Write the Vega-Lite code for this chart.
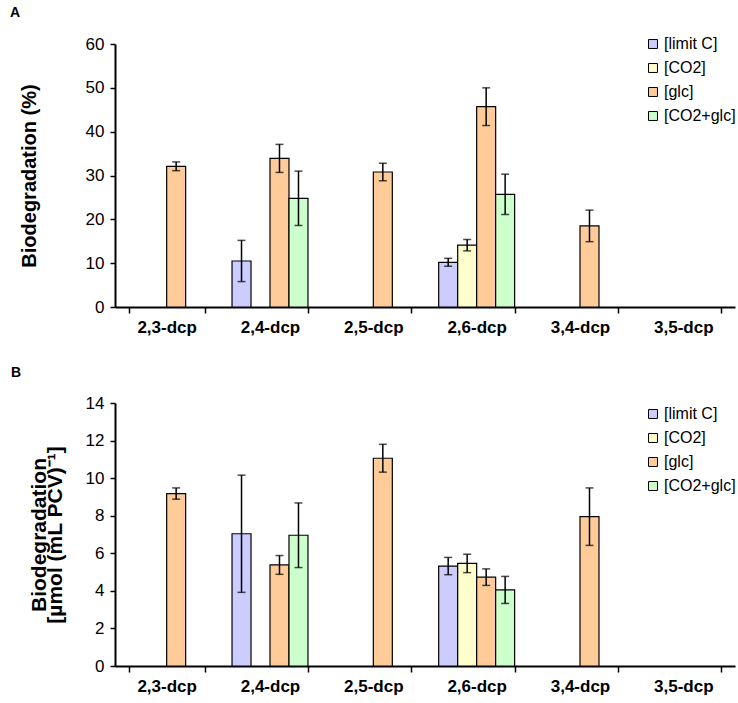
{
  "$schema": "https://vega.github.io/schema/vega-lite/v6.json",
  "padding": {"left": 10, "top": 6, "right": 3, "bottom": 5},
  "background": "white",
  "spacing": 31,
  "config": {
    "font": "Liberation Sans",
    "view": {"stroke": null},
    "axis": {
      "domainColor": "black", "domainWidth": 2,
      "tickColor": "black", "tickWidth": 1.5, "tickSize": 5,
      "labelColor": "black", "titleColor": "black",
      "labelFont": "Liberation Sans", "titleFont": "Liberation Sans",
      "grid": false, "labelOverlap": false
    },
    "title": {"font": "Liberation Sans", "fontWeight": "bold", "fontSize": 14, "color": "black", "anchor": "start", "frame": "bounds"}
  },
  "datasets": {
    "a": [
      {"cat": "2,3-dcp", "cond": "[glc]", "value": 32.1, "lo": 31.1, "hi": 33.1},
      {"cat": "2,4-dcp", "cond": "[limit C]", "value": 10.5, "lo": 5.8, "hi": 15.2},
      {"cat": "2,4-dcp", "cond": "[glc]", "value": 33.9, "lo": 30.7, "hi": 37.1},
      {"cat": "2,4-dcp", "cond": "[CO2+glc]", "value": 24.8, "lo": 18.6, "hi": 31.0},
      {"cat": "2,5-dcp", "cond": "[glc]", "value": 30.8, "lo": 28.8, "hi": 32.8},
      {"cat": "2,6-dcp", "cond": "[limit C]", "value": 10.2, "lo": 9.3, "hi": 11.1},
      {"cat": "2,6-dcp", "cond": "[CO2]", "value": 14.1, "lo": 12.8, "hi": 15.4},
      {"cat": "2,6-dcp", "cond": "[glc]", "value": 45.7, "lo": 41.4, "hi": 50.0},
      {"cat": "2,6-dcp", "cond": "[CO2+glc]", "value": 25.7, "lo": 21.1, "hi": 30.3},
      {"cat": "3,4-dcp", "cond": "[glc]", "value": 18.5, "lo": 14.9, "hi": 22.1}
    ],
    "b": [
      {"cat": "2,3-dcp", "cond": "[glc]", "value": 9.18, "lo": 8.88, "hi": 9.48},
      {"cat": "2,4-dcp", "cond": "[limit C]", "value": 7.04, "lo": 3.92, "hi": 10.16},
      {"cat": "2,4-dcp", "cond": "[glc]", "value": 5.38, "lo": 4.88, "hi": 5.88},
      {"cat": "2,4-dcp", "cond": "[CO2+glc]", "value": 6.96, "lo": 5.24, "hi": 8.68},
      {"cat": "2,5-dcp", "cond": "[glc]", "value": 11.06, "lo": 10.32, "hi": 11.8},
      {"cat": "2,6-dcp", "cond": "[limit C]", "value": 5.32, "lo": 4.86, "hi": 5.78},
      {"cat": "2,6-dcp", "cond": "[CO2]", "value": 5.46, "lo": 4.97, "hi": 5.95},
      {"cat": "2,6-dcp", "cond": "[glc]", "value": 4.73, "lo": 4.29, "hi": 5.17},
      {"cat": "2,6-dcp", "cond": "[CO2+glc]", "value": 4.05, "lo": 3.33, "hi": 4.77},
      {"cat": "3,4-dcp", "cond": "[glc]", "value": 7.95, "lo": 6.42, "hi": 9.48}
    ]
  },
  "resolve": {"scale": {"color": "independent"}, "legend": {"color": "independent"}},
  "vconcat": [
    {
      "title": {"text": "A", "dx": -9, "offset": 15},
      "width": 620, "height": 263,
      "data": {"name": "a"},
      "encoding": {
        "x": {"field": "cat", "type": "nominal", "sort": null,
          "scale": {"domain": ["2,3-dcp", "2,4-dcp", "2,5-dcp", "2,6-dcp", "3,4-dcp", "3,5-dcp"], "paddingInner": 0.265, "paddingOuter": 0.1325},
          "axis": {"title": null, "labelAngle": 0, "labelFontWeight": "bold", "labelFontSize": 17, "labelPadding": 6, "tickBand": "extent", "tickSize": 6}},
        "xOffset": {"field": "cond", "type": "nominal",
          "scale": {"domain": ["[limit C]", "[CO2]", "[glc]", "[CO2+glc]"], "paddingInner": 0, "paddingOuter": 0}}
      },
      "layer": [
        {
          "mark": {"type": "bar", "stroke": "black", "strokeWidth": 1.2},
          "encoding": {
            "y": {"field": "value", "type": "quantitative",
              "scale": {"domain": [0, 60], "nice": false},
              "axis": {"values": [0, 10, 20, 30, 40, 50, 60], "title": "Biodegradation (%)", "titleFontSize": 20, "titleFontWeight": "bold", "titlePadding": 46, "labelFontSize": 17, "labelPadding": 6, "labelOverlap": false}},
            "color": {"field": "cond", "type": "nominal",
              "scale": {"domain": ["[limit C]", "[CO2]", "[glc]", "[CO2+glc]"], "range": ["#ccccff", "#ffffcc", "#ffcc99", "#ccffcc"]},
              "legend": {"orient": "none", "legendX": 530, "legendY": -8, "title": null, "symbolType": "square", "symbolSize": 80, "symbolStrokeColor": "black", "symbolStrokeWidth": 1, "symbolOpacity": 1, "labelFontSize": 16, "labelColor": "black", "labelOffset": 3, "rowPadding": 8}}
          }
        },
        {
          "mark": {"type": "rule", "color": "black", "strokeWidth": 1.5},
          "encoding": {"y": {"field": "lo", "type": "quantitative", "axis": {"values": [0, 10, 20, 30, 40, 50, 60], "title": "Biodegradation (%)", "titleFontSize": 20, "titleFontWeight": "bold", "titlePadding": 46, "labelFontSize": 17, "labelPadding": 6, "labelOverlap": false}}, "y2": {"field": "hi"}}
        },
        {
          "mark": {"type": "tick", "color": "black", "thickness": 1.5, "size": 8, "orient": "horizontal"},
          "encoding": {"y": {"field": "lo", "type": "quantitative", "axis": {"values": [0, 10, 20, 30, 40, 50, 60], "title": "Biodegradation (%)", "titleFontSize": 20, "titleFontWeight": "bold", "titlePadding": 46, "labelFontSize": 17, "labelPadding": 6, "labelOverlap": false}}}
        },
        {
          "mark": {"type": "tick", "color": "black", "thickness": 1.5, "size": 8, "orient": "horizontal"},
          "encoding": {"y": {"field": "hi", "type": "quantitative", "axis": {"values": [0, 10, 20, 30, 40, 50, 60], "title": "Biodegradation (%)", "titleFontSize": 20, "titleFontWeight": "bold", "titlePadding": 46, "labelFontSize": 17, "labelPadding": 6, "labelOverlap": false}}}
        }
      ]
    },
    {
      "title": {"text": "B", "dx": -17, "offset": 14},
      "width": 620, "height": 263,
      "data": {"name": "b"},
      "encoding": {
        "x": {"field": "cat", "type": "nominal", "sort": null,
          "scale": {"domain": ["2,3-dcp", "2,4-dcp", "2,5-dcp", "2,6-dcp", "3,4-dcp", "3,5-dcp"], "paddingInner": 0.265, "paddingOuter": 0.1325},
          "axis": {"title": null, "labelAngle": 0, "labelFontWeight": "bold", "labelFontSize": 17, "labelPadding": 6, "tickBand": "extent", "tickSize": 6}},
        "xOffset": {"field": "cond", "type": "nominal",
          "scale": {"domain": ["[limit C]", "[CO2]", "[glc]", "[CO2+glc]"], "paddingInner": 0, "paddingOuter": 0}}
      },
      "layer": [
        {
          "mark": {"type": "bar", "stroke": "black", "strokeWidth": 1.2},
          "encoding": {
            "y": {"field": "value", "type": "quantitative",
              "scale": {"domain": [0, 14], "nice": false},
              "axis": {"values": [0, 2, 4, 6, 8, 10, 12, 14], "title": ["Biodegradation", "[µmol (mL PCV)⁻¹]"], "titleFontSize": 21, "titleFontWeight": "bold", "titlePadding": 20, "titleLineHeight": 16, "labelFontSize": 17, "labelPadding": 6, "labelOverlap": false}},
            "color": {"field": "cond", "type": "nominal",
              "scale": {"domain": ["[limit C]", "[CO2]", "[glc]", "[CO2+glc]"], "range": ["#ccccff", "#ffffcc", "#ffcc99", "#ccffcc"]},
              "legend": {"orient": "none", "legendX": 530, "legendY": 3, "title": null, "symbolType": "square", "symbolSize": 80, "symbolStrokeColor": "black", "symbolStrokeWidth": 1, "symbolOpacity": 1, "labelFontSize": 16, "labelColor": "black", "labelOffset": 3, "rowPadding": 8}}
          }
        },
        {
          "mark": {"type": "rule", "color": "black", "strokeWidth": 1.5},
          "encoding": {"y": {"field": "lo", "type": "quantitative", "axis": {"values": [0, 2, 4, 6, 8, 10, 12, 14], "title": ["Biodegradation", "[µmol (mL PCV)⁻¹]"], "titleFontSize": 21, "titleFontWeight": "bold", "titlePadding": 20, "titleLineHeight": 16, "labelFontSize": 17, "labelPadding": 6, "labelOverlap": false}}, "y2": {"field": "hi"}}
        },
        {
          "mark": {"type": "tick", "color": "black", "thickness": 1.5, "size": 8, "orient": "horizontal"},
          "encoding": {"y": {"field": "lo", "type": "quantitative", "axis": {"values": [0, 2, 4, 6, 8, 10, 12, 14], "title": ["Biodegradation", "[µmol (mL PCV)⁻¹]"], "titleFontSize": 21, "titleFontWeight": "bold", "titlePadding": 20, "titleLineHeight": 16, "labelFontSize": 17, "labelPadding": 6, "labelOverlap": false}}}
        },
        {
          "mark": {"type": "tick", "color": "black", "thickness": 1.5, "size": 8, "orient": "horizontal"},
          "encoding": {"y": {"field": "hi", "type": "quantitative", "axis": {"values": [0, 2, 4, 6, 8, 10, 12, 14], "title": ["Biodegradation", "[µmol (mL PCV)⁻¹]"], "titleFontSize": 21, "titleFontWeight": "bold", "titlePadding": 20, "titleLineHeight": 16, "labelFontSize": 17, "labelPadding": 6, "labelOverlap": false}}}
        }
      ]
    }
  ]
}
